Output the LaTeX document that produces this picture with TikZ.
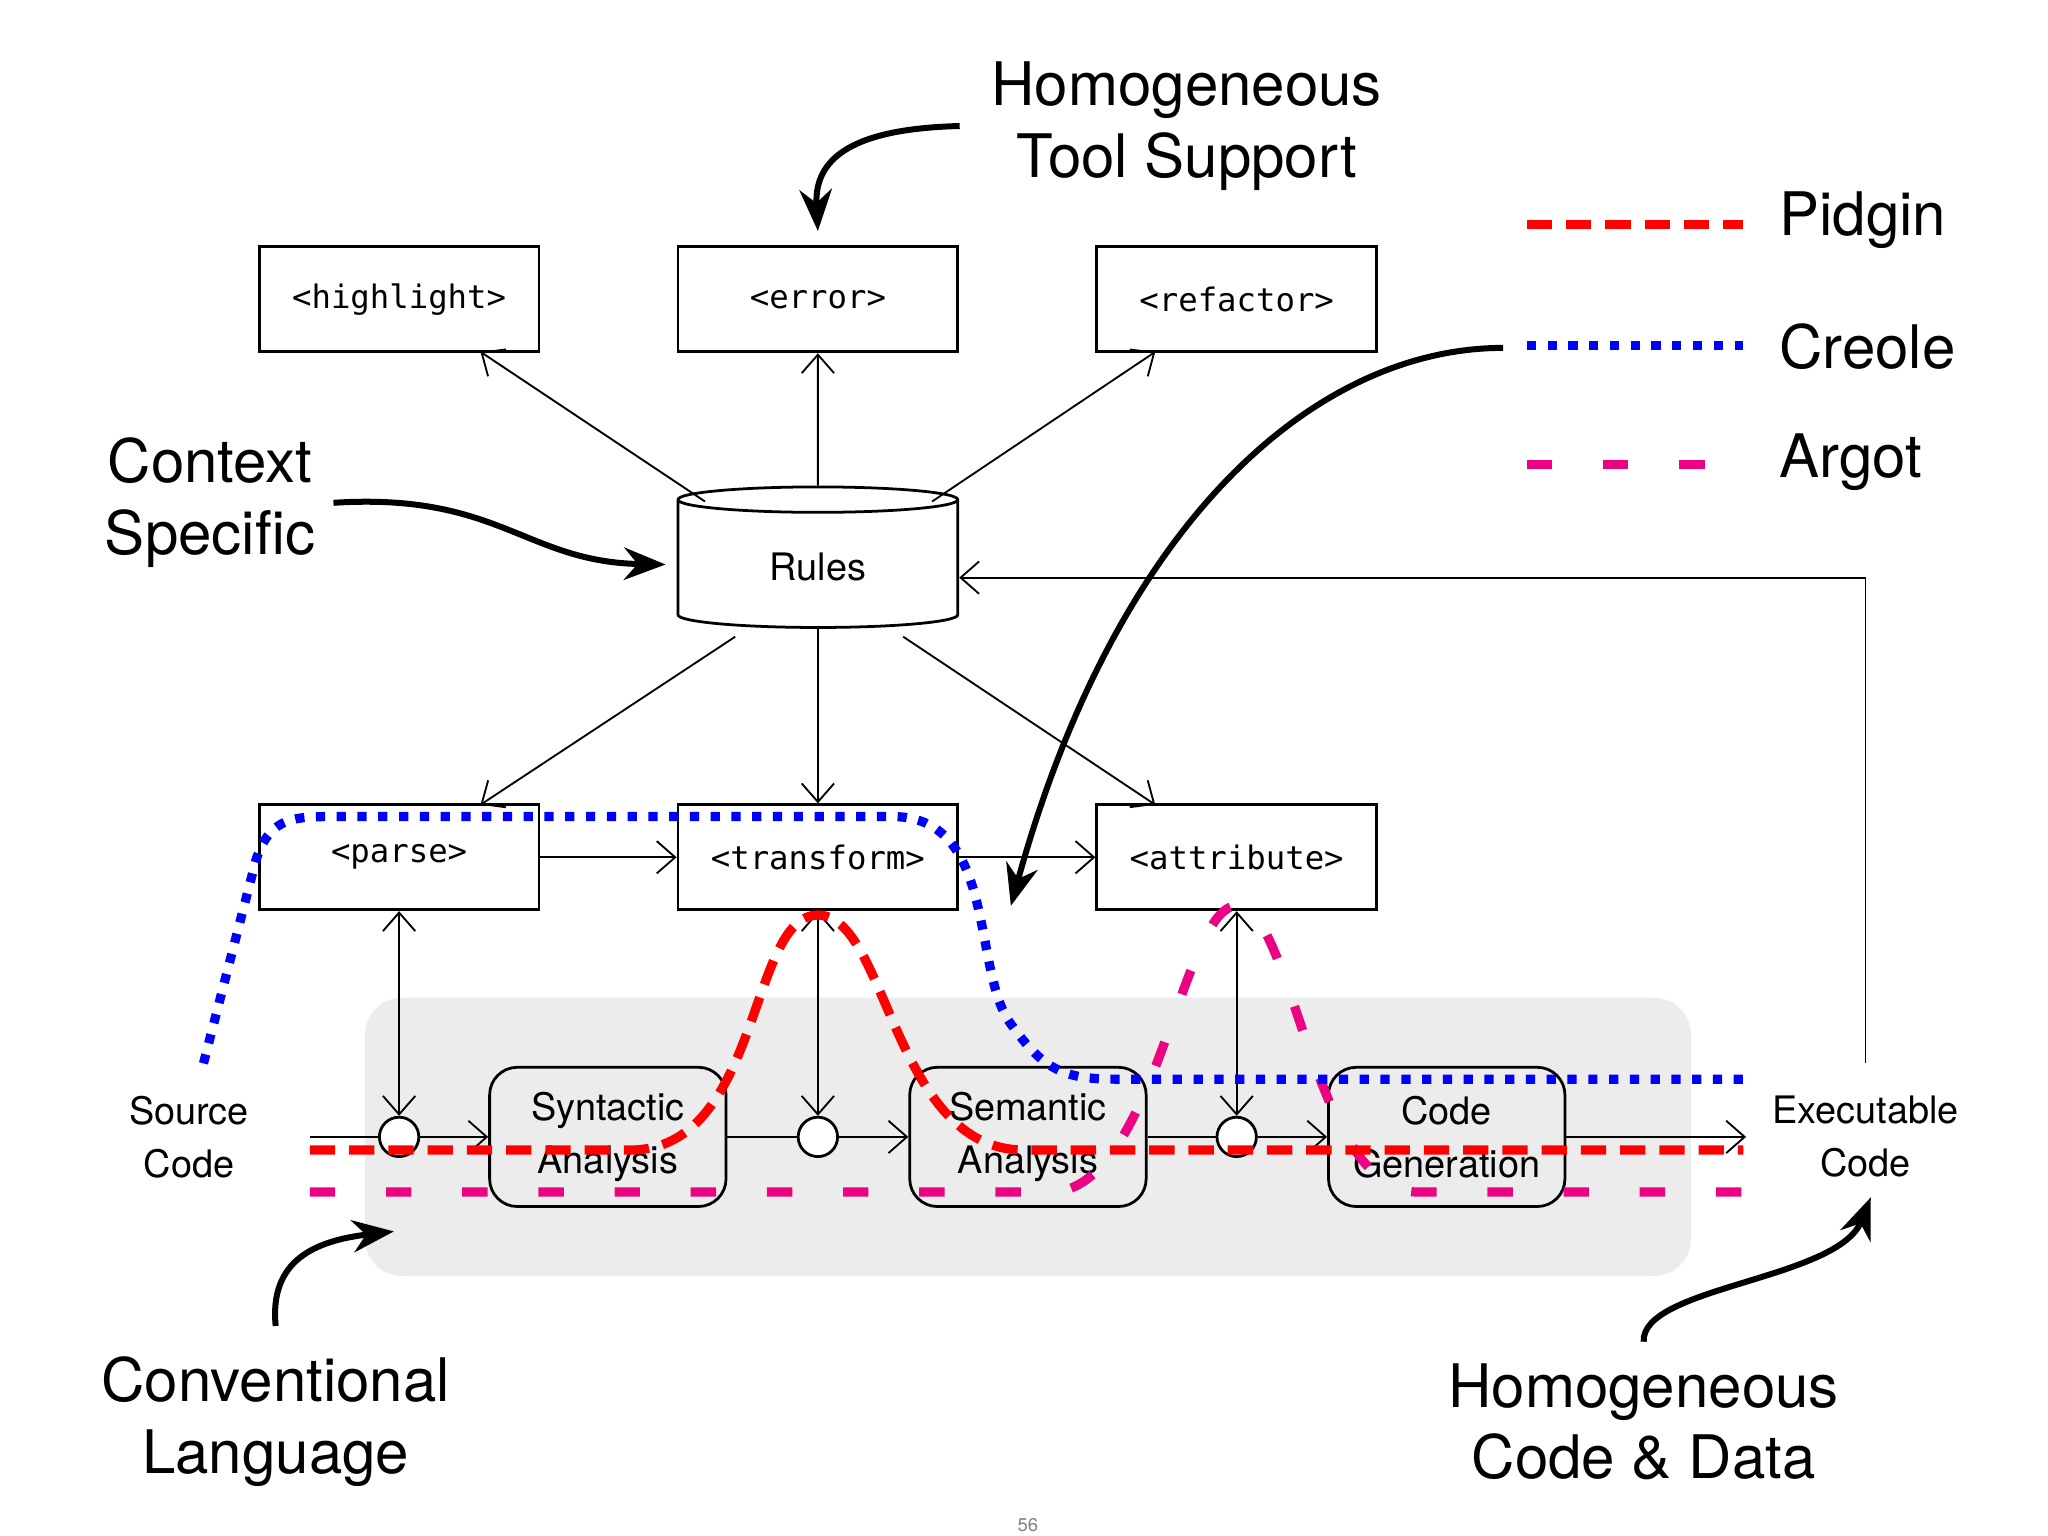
\documentclass[tikz,border=0pt]{standalone}
\usepackage{fontspec}
\setmainfont{TeX Gyre Heros}
\newfontfamily\mono{DejaVu Sans Mono}
\usetikzlibrary{arrows.meta,shapes.geometric}
\tikzset{
  box/.style={draw, semithick, minimum width=2.13cm, minimum height=0.8cm, font=\mono\fontsize{7}{8}\selectfont, inner sep=0pt},
  stage/.style={draw, semithick, rounded corners=6pt, minimum width=1.8cm, minimum height=1.06cm, align=center, font=\fontsize{8.2}{11.5}\selectfont},
  junc/.style={draw, semithick, circle, minimum size=0.3cm, inner sep=0pt, fill=white},
  l/.style={thin, -{Straight Barb[length=4pt,width=7pt]}},
  ll/.style={thin, {Straight Barb[length=4pt,width=7pt]}-{Straight Barb[length=4pt,width=7pt]}},
  big/.style={align=center, font=\fontsize{13}{15.5}\selectfont},
  note/.style={line width=1.3pt, -{Stealth[length=9pt,width=7pt]}},
  pidgin/.style={red, line width=2pt, dash pattern=on 5.5pt off 3pt},
  creole/.style={blue, line width=2pt, dash pattern=on 2pt off 2.5pt},
  argot/.style={magenta!90!red, line width=2pt, dash pattern=on 5.5pt off 11pt},
}
\begin{document}
\begin{tikzpicture}[x=0.01cm, y=-0.01cm]
\useasboundingbox (0,0) rectangle (1560,1170);
\fill[gray!15, rounded corners=8pt] (278,760) rectangle (1288,972);

% rule boxes
\node[box] (hl) at (304,228) {<highlight>};
\node[box] (err) at (623,228) {<error>};
\node[box] (ref) at (942,228) {<refactor>};
\node[draw, semithick, cylinder, shape border rotate=90, aspect=0.2, minimum width=2.13cm, minimum height=1.07cm, font=\fontsize{8.2}{10}\selectfont] (rules) at (623,432) {Rules};
\node[box] (parse) at (304,653) {<parse>};
\node[box] (trans) at (623,653) {<transform>};
\node[box] (attr) at (942,653) {<attribute>};

\draw[l] (537,382) -- (366,268);
\draw[l] (rules.north) -- (err.south);
\draw[l] (710,382) -- (880,268);
\draw[l] (560,485) -- (366,613);
\draw[l] (rules.south) -- (trans.north);
\draw[l] (688,485) -- (880,613);
\draw[l] (parse.east) -- (trans.west);
\draw[l] (trans.east) -- (attr.west);

% pipeline
\node[font=\fontsize{8.2}{11.5}\selectfont, align=center] (src) at (144,866) {Source\\Code};
\node[font=\fontsize{8.2}{11.5}\selectfont, align=center] (exe) at (1421,866) {Executable\\Code};
\node[stage] (syn) at (463,866) {Syntactic\\Analysis};
\node[stage] (sem) at (783,866) {Semantic\\Analysis};
\node[stage] (gen) at (1102,866) {Code\\Generation};
\node[junc] (j1) at (304,866) {};
\node[junc] (j2) at (623,866) {};
\node[junc] (j3) at (942,866) {};
\coordinate (in) at (236,866);
\coordinate (out) at (1330,866);
\draw[thin] (in) -- (j1.west);
\draw[l] (j1.east) -- (syn.west);
\draw[thin] (syn.east) -- (j2.west);
\draw[l] (j2.east) -- (sem.west);
\draw[thin] (sem.east) -- (j3.west);
\draw[l] (j3.east) -- (gen.west);
\draw[l] (gen.east) -- (out);
\draw[ll] (parse.south) -- (j1.north);
\draw[ll] (trans.south) -- (j2.north);
\draw[ll] (attr.south) -- (j3.north);
\draw[l] (1421,810) -- (1421,440) -- (rules.east |- 0,440);

% language lines
\draw[argot] (236,908) -- (800,908) .. controls (880,908) and (900,690) .. (942,690)
  .. controls (985,690) and (1000,908) .. (1080,908) -- (1330,908);
\draw[pidgin] (236,876) -- (480,876) .. controls (580,876) and (570,697) .. (623,697)
  .. controls (676,697) and (680,876) .. (780,876) -- (1328,876);
\draw[creole] (155,810) -- (195,655) .. controls (205,625) and (220,622) .. (250,622)
  -- (680,622) .. controls (760,622) and (740,740) .. (770,780) .. controls (795,815) and (810,822) .. (850,822) -- (1328,822);

% legend
\draw[pidgin] (1163,171) -- (1328,171);
\draw[creole] (1163,263) -- (1328,263);
\draw[argot] (1163,354) -- (1328,354);
\node[big, anchor=west] (lp) at (1343,168) {Pidgin};
\node[big, anchor=west] (lc) at (1343,264) {Creole};
\node[big, anchor=west] (la) at (1343,352) {Argot};

% annotations
\node[big] (hts) at (904,96) {Homogeneous\\Tool Support};
\node[big] (cs) at (160,383) {Context\\Specific};
\node[big] (cl) at (210,1083) {Conventional\\Language};
\node[big] (hcd) at (1252,1083) {Homogeneous\\Code \& Data};
\coordinate (cr) at (1145,265);
\draw[note] (731,96) .. controls (650,98) and (620,120) .. (623,176);
\draw[note] (254,383) .. controls (380,375) and (400,428) .. (507,430);
\draw[note] (cr) .. controls (1000,265) and (850,400) .. (770,690);
\draw[note] (210,1010) .. controls (205,960) and (240,945) .. (300,938);
\draw[note] (1252,1022) .. controls (1250,980) and (1400,975) .. (1425,912);
\node[font=\fontsize{4}{5}\selectfont, text=gray] (pg) at (783,1162) {56};
\end{tikzpicture}
\end{document}
